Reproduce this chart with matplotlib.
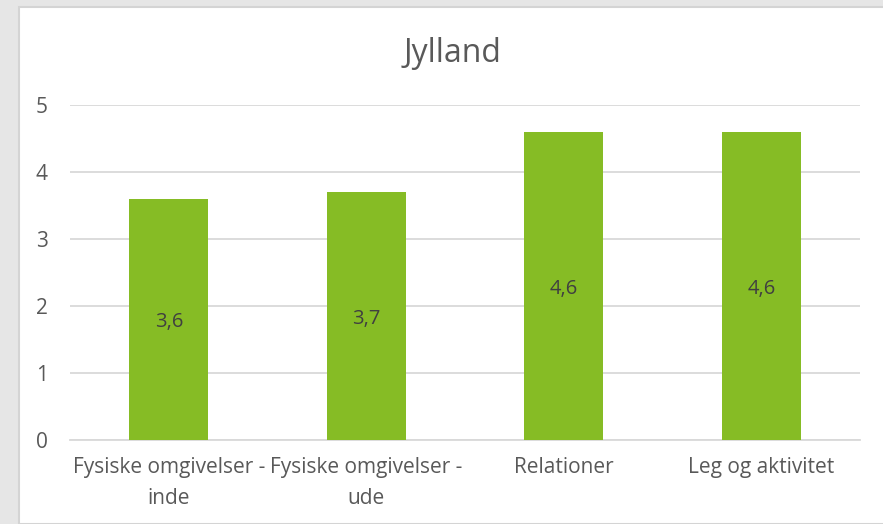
import matplotlib.pyplot as plt
from matplotlib.patches import Rectangle
import numpy as np

categories = ["Fysiske omgivelser -\ninde", "Fysiske omgivelser -\nude", "Relationer", "Leg og aktivitet"]
values = [3.6, 3.7, 4.6, 4.6]
value_labels = ["3,6", "3,7", "4,6", "4,6"]

plt.rcParams['font.family'] = ['Open Sans', 'DejaVu Sans']
plt.rcParams['ytick.major.pad'] = 16
plt.rcParams['xtick.major.pad'] = 12
text_color = '#595959'

fig = plt.figure(figsize=(8.83, 5.24), dpi=100, facecolor='#e6e6e6')
# white chart panel with a thin border
fig.patches.append(Rectangle((19 / 883, 0), 1, 1 - 7 / 524, transform=fig.transFigure,
                             facecolor='white', edgecolor='#d4d4d4', linewidth=1.5, zorder=-5))

ax = fig.add_axes([70 / 883, 1 - 440 / 524, 790 / 883, 335 / 524])
ax.set_zorder(2)
ax.set_facecolor('none')

x = np.arange(len(categories))
bars = ax.bar(x, values, width=0.4, color='#86bc25', zorder=3)
for bar, lab in zip(bars, value_labels):
    ax.annotate(lab, (bar.get_x() + bar.get_width() / 2, bar.get_height() / 2),
                xytext=(0, -2), textcoords='offset points',
                ha='center', va='center', fontsize=14.5, color='#404040', zorder=4)

ax.set_xlim(-0.5, len(categories) - 0.5)
ax.set_ylim(0, 5)
ax.set_yticks(range(6))
ax.yaxis.grid(True, color='#d9d9d9', linewidth=1.3, zorder=0)
ax.set_axisbelow(True)
for s in ['top', 'right', 'left']:
    ax.spines[s].set_visible(False)
ax.spines['bottom'].set_color('#d9d9d9')
ax.spines['bottom'].set_linewidth(1.3)

ax.set_xticks(x)
ax.set_xticklabels(categories, fontsize=15, color=text_color, linespacing=1.65)
ax.tick_params(axis='x', length=0)
ax.tick_params(axis='y', length=0, labelsize=15, labelcolor=text_color)

fig.text(452 / 883, 1 - 53 / 524, "Jylland", ha='center', va='center',
         fontsize=23, color=text_color, zorder=3)

plt.savefig('out.png', dpi=100, facecolor=fig.get_facecolor())
